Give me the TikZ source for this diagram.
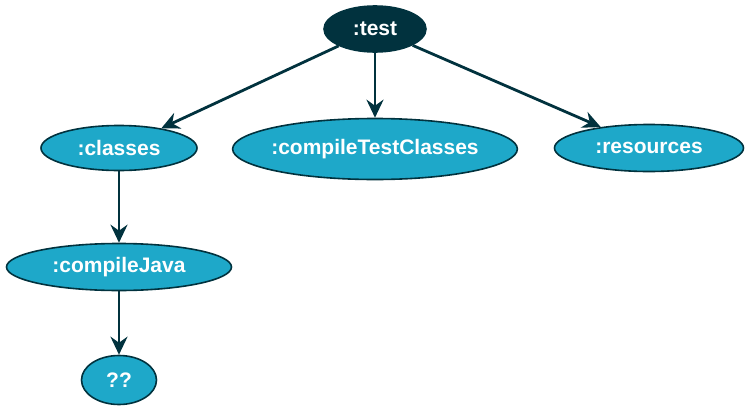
\documentclass[tikz,border=0pt]{standalone}
\usepackage{fontspec}
\setmainfont{Liberation Sans}
\usetikzlibrary{shapes.geometric,arrows.meta}
\definecolor{darkteal}{RGB}{1,50,62}
\definecolor{lightteal}{RGB}{30,168,201}
\tikzset{
  task/.style={ellipse, draw=darkteal, line width=1.6pt, fill=lightteal, text=white,
    font=\fontsize{21}{24}\selectfont\bfseries, inner sep=0pt},
  roottask/.style={task, fill=darkteal},
  dep/.style={draw=darkteal, line width=2.8pt, -{Stealth[length=18pt,width=17pt,inset=6pt]}}
}
\begin{document}
\begin{tikzpicture}[x=1pt,y=-1pt]
\useasboundingbox (0,0) rectangle (748,410);
\node[roottask, minimum width=102pt, minimum height=46pt] (test) at (375,29) {:test};
\node[task, minimum width=156pt, minimum height=45pt] (classes) at (119,148) {:classes};
\node[task, minimum width=284pt, minimum height=61pt, inner xsep=-3pt] (ctc) at (375,149) {:compileTestClasses};
\node[task, minimum width=189pt, minimum height=47pt] (res) at (649,148) {:resources};
\node[task, minimum width=225pt, minimum height=47pt] (cj) at (119,267) {:compileJava};
\node[task, minimum width=75pt, minimum height=49pt] (qq) at (119,380) {??};
\draw[dep] (test) -- (classes);
\draw[dep] (test) -- (ctc);
\draw[dep] (test) -- (res);
\draw[dep] (classes) -- (cj);
\draw[dep] (cj) -- (qq);
\end{tikzpicture}
\end{document}
